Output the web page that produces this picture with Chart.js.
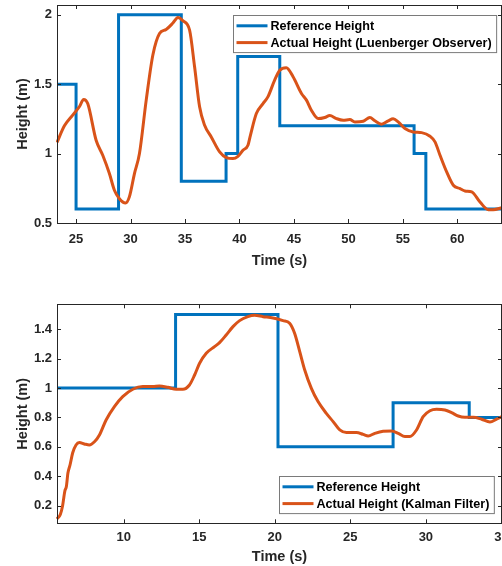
<!DOCTYPE html>
<html lang="en">
<head>
<meta charset="utf-8">
<title>Height tracking</title>
<script src="https://cdn.jsdelivr.net/npm/chart.js"></script>
<style>
  html, body { margin: 0; padding: 0; background: #fff; overflow: hidden; }
  canvas { display: block; }
</style>
</head>
<body>
<canvas id="topChart" width="502" height="270"></canvas>
<canvas id="bottomChart" width="502" height="296"></canvas>
<script>
// top panel - Luenberger observer
const topRefTime   = [23.25, 25.0, 28.9, 34.66, 38.77, 39.84, 43.7, 56.03, 57.11, 64.1];
const topRefHeight = [1.5,   0.6,  2.0,  0.8,   1.0,   1.7,   1.2,  1.0,   0.6,   0.6];
const topActTime   = [23.25, 23.93, 24.69, 25.3, 25.7, 26.07, 26.84, 27.45, 28.06, 28.52, 28.98, 29.54, 29.9, 30.36, 30.82,
                      31.44, 32.05, 32.66, 33.27, 33.89, 34.35, 34.8, 35.42, 35.88, 36.34, 36.8, 37.41, 38.18, 38.79, 39.4,
                      39.86, 40.32, 40.78, 41.0, 41.55, 42.16, 42.62, 43.23, 43.7, 44.3, 44.92, 45.69, 46.15, 46.6, 47.22,
                      47.83, 48.29, 48.9, 49.52, 50.13, 50.59, 51.36, 51.97, 52.43, 53.04, 53.66, 54.11, 54.57, 55.19, 55.95,
                      56.72, 57.49, 57.95, 58.41, 59.02, 59.63, 60.25, 60.7, 61.32, 62.08, 62.85, 63.3, 64.1];
const topActHeight = [1.08, 1.2, 1.277, 1.337, 1.39, 1.36, 1.096, 0.988, 0.856, 0.736, 0.675, 0.644, 0.69, 0.856, 1.0,
                      1.385, 1.71, 1.865, 1.894, 1.94, 1.98, 1.957, 1.89, 1.625, 1.337, 1.204, 1.12, 1.012, 0.971, 0.964,
                      0.98, 1.024, 1.06, 1.13, 1.288, 1.36, 1.41, 1.529, 1.6, 1.618, 1.553, 1.433, 1.385, 1.312, 1.252,
                      1.26, 1.274, 1.252, 1.24, 1.245, 1.228, 1.233, 1.26, 1.236, 1.212, 1.236, 1.25, 1.228, 1.18, 1.156,
                      1.151, 1.125, 1.084, 0.988, 0.868, 0.772, 0.748, 0.731, 0.724, 0.651, 0.596, 0.596, 0.61];

// bottom panel - Kalman filter
const botRefTime   = [5.58, 13.43, 20.21, 27.83, 32.87, 35.04];
const botRefHeight = [1.0,  1.5,   0.6,   0.9,   0.8,   0.8];
const botActTime   = [5.58, 5.8, 5.95, 6.1, 6.2, 6.3, 6.45, 6.62, 6.84, 7.06, 7.39, 7.72, 8.06, 8.39, 8.83, 9.38, 9.93,
                      10.6, 11.26, 11.92, 12.36, 12.92, 13.47, 13.91, 14.35, 14.69, 15.02, 15.46, 16.01, 16.34, 16.78, 17.23,
                      17.67, 18.22, 18.66, 19.22, 19.88, 20.54, 20.98, 21.31, 21.65, 21.98, 22.42, 22.86, 23.41, 23.86, 24.3,
                      24.74, 25.4, 25.85, 26.18, 26.62, 27.17, 27.73, 28.17, 28.61, 28.94, 29.38, 29.82, 30.27, 30.71, 31.26,
                      31.7, 32.14, 32.58, 33.14, 33.69, 34.24, 34.68, 35.04];
const botActHeight = [0.11, 0.14, 0.2, 0.3, 0.33, 0.42, 0.48, 0.56, 0.613, 0.629, 0.62, 0.613, 0.635, 0.681, 0.783, 0.874, 0.942,
                      0.992, 1.01, 1.01, 1.014, 1.005, 0.992, 0.992, 1.021, 1.089, 1.169, 1.237, 1.282, 1.309, 1.361, 1.418,
                      1.459, 1.486, 1.495, 1.486, 1.477, 1.459, 1.441, 1.373, 1.248, 1.123, 0.998, 0.908, 0.828, 0.772, 0.715,
                      0.697, 0.697, 0.685, 0.674, 0.692, 0.706, 0.708, 0.692, 0.67, 0.67, 0.715, 0.806, 0.846, 0.856, 0.851,
                      0.833, 0.81, 0.801, 0.801, 0.788, 0.769, 0.788, 0.806];

const BLUE = '#0072BD';
const ORANGE = '#D95319';
const INK = '#262626';
const FONT = '"Liberation Sans", Arial, sans-serif';

function toPoints(xs, ys) {
    return xs.map((x, i) => ({ x: x, y: ys[i] }));
}

// matlab style box, inward ticks and legend inside the axes
const matlabBox = {
    id: 'matlabBox',
    afterDatasetsDraw(chart, args, opts) {
        const ctx = chart.ctx;
        const a = chart.chartArea;
        const xs = chart.scales.x, ys = chart.scales.y;
        ctx.save();
        ctx.strokeStyle = INK;
        ctx.lineWidth = 1;
        ctx.beginPath();
        xs.ticks.forEach(t => {
            const px = Math.round(xs.getPixelForValue(t.value)) + 0.5;
            ctx.moveTo(px, a.bottom); ctx.lineTo(px, a.bottom - 4);
            ctx.moveTo(px, a.top); ctx.lineTo(px, a.top + 4);
        });
        ys.ticks.forEach(t => {
            const py = Math.round(ys.getPixelForValue(t.value)) + 0.5;
            ctx.moveTo(a.left, py); ctx.lineTo(a.left + 4, py);
            ctx.moveTo(a.right, py); ctx.lineTo(a.right - 4, py);
        });
        ctx.stroke();
        ctx.strokeRect(Math.round(a.left) + 0.5, Math.round(a.top) + 0.5,
                       Math.round(a.right - a.left) - 1, Math.round(a.bottom - a.top));

        // legend
        ctx.font = 'bold 12.6px ' + FONT;
        const items = opts.items;
        const textW = Math.max(...items.map(it => ctx.measureText(it.label).width));
        const w = 37 + textW + 5;
        const rowH = 16.8;
        const h = items.length * rowH + 3.5;
        const right = a.right - opts.dx;
        const left = Math.round(right - w) + 0.5;
        let top = opts.corner === 'top' ? a.top + opts.dy : a.bottom - opts.dy - h;
        top = Math.round(top) + 0.5;
        ctx.fillStyle = '#fff';
        ctx.fillRect(left, top, w, h);
        ctx.strokeStyle = '#7a7a7a';
        ctx.strokeRect(left, top, w, h);
        items.forEach((it, i) => {
            const cy = top + 10.3 + i * rowH;
            ctx.strokeStyle = it.color;
            ctx.lineWidth = 3;
            ctx.beginPath();
            ctx.moveTo(left + 3, cy); ctx.lineTo(left + 34, cy);
            ctx.stroke();
            ctx.fillStyle = '#000';
            ctx.textBaseline = 'middle';
            ctx.fillText(it.label, left + 37, cy + 0.5);
        });
        ctx.restore();
    }
};

function fmt(v) {
    return String(Number(v.toFixed(2)));
}

function makeChart(id, cfg) {
    return new Chart(document.getElementById(id), {
        type: 'line',
        data: {
            datasets: [{
                label: cfg.actLabel,
                data: toPoints(cfg.actTime, cfg.actHeight),
                borderColor: ORANGE,
                borderWidth: 3,
                pointRadius: 0,
                cubicInterpolationMode: 'monotone',
                fill: false,
                clip: 1
            }, {
                label: 'Reference Height',
                data: toPoints(cfg.refTime, cfg.refHeight),
                borderColor: BLUE,
                borderWidth: 3,
                pointRadius: 0,
                stepped: true,
                borderJoinStyle: 'miter',
                fill: false,
                clip: 1
            }]
        },
        options: {
            responsive: false,
            animation: false,
            devicePixelRatio: 1,
            layout: { padding: { top: cfg.padTop, right: 0, bottom: 0, left: 0 } },
            plugins: {
                legend: { display: false },
                tooltip: { enabled: false },
                matlabBox: {
                    corner: cfg.legendCorner, dx: cfg.legendDx, dy: cfg.legendDy,
                    items: [
                        { label: 'Reference Height', color: BLUE },
                        { label: cfg.actLabel, color: ORANGE }
                    ]
                }
            },
            scales: {
                x: {
                    type: 'linear',
                    min: cfg.xMin, max: cfg.xMax,
                    grid: { display: false, drawTicks: false },
                    border: { display: false },
                    ticks: {
                        stepSize: 5, includeBounds: false, maxRotation: 0, autoSkip: false,
                        padding: cfg.xTickPad, color: INK,
                        font: { family: FONT, size: 13, weight: 'bold' },
                        callback: fmt
                    },
                    title: {
                        display: true, text: 'Time (s)', color: INK,
                        padding: { top: 0, bottom: cfg.xTitlePad },
                        font: { family: FONT, size: 14.5, weight: 'bold' }
                    },
                    afterFit: s => { s.height = cfg.xHeight; s.paddingLeft = 0; s.paddingRight = 0; }
                },
                y: {
                    type: 'linear',
                    min: cfg.yMin, max: cfg.yMax,
                    grid: { display: false, drawTicks: false },
                    border: { display: false },
                    ticks: {
                        stepSize: cfg.yStep, includeBounds: false,
                        padding: 5, color: INK,
                        font: { family: FONT, size: 13, weight: 'bold' },
                        callback: fmt
                    },
                    title: {
                        display: true, text: 'Height (m)', color: INK,
                        padding: { top: 14, bottom: 0 },
                        font: { family: FONT, size: 14.5, weight: 'bold' }
                    },
                    afterFit: s => { s.width = 57; s.paddingTop = 0; s.paddingBottom = 0; }
                }
            }
        },
        plugins: [matlabBox]
    });
}

makeChart('topChart', {
    actLabel: 'Actual Height (Luenberger Observer)',
    refTime: topRefTime, refHeight: topRefHeight,
    actTime: topActTime, actHeight: topActHeight,
    xMin: 23.25, xMax: 64.1, yMin: 0.5, yMax: 2.07, yStep: 0.5,
    padTop: 5, xHeight: 47, xTickPad: 9, xTitlePad: 0.8,
    legendCorner: 'top', legendDx: 6, legendDy: 10
});

makeChart('bottomChart', {
    actLabel: 'Actual Height (Kalman Filter)',
    refTime: botRefTime, refHeight: botRefHeight,
    actTime: botActTime, actHeight: botActHeight,
    xMin: 5.58, xMax: 35.04, yMin: 0.08, yMax: 1.57, yStep: 0.2,
    padTop: 34.3, xHeight: 42.7, xTickPad: 6.6, xTitlePad: 0.6,
    legendCorner: 'bottom', legendDx: 8, legendDy: 10.6
});
</script>
</body>
</html>
